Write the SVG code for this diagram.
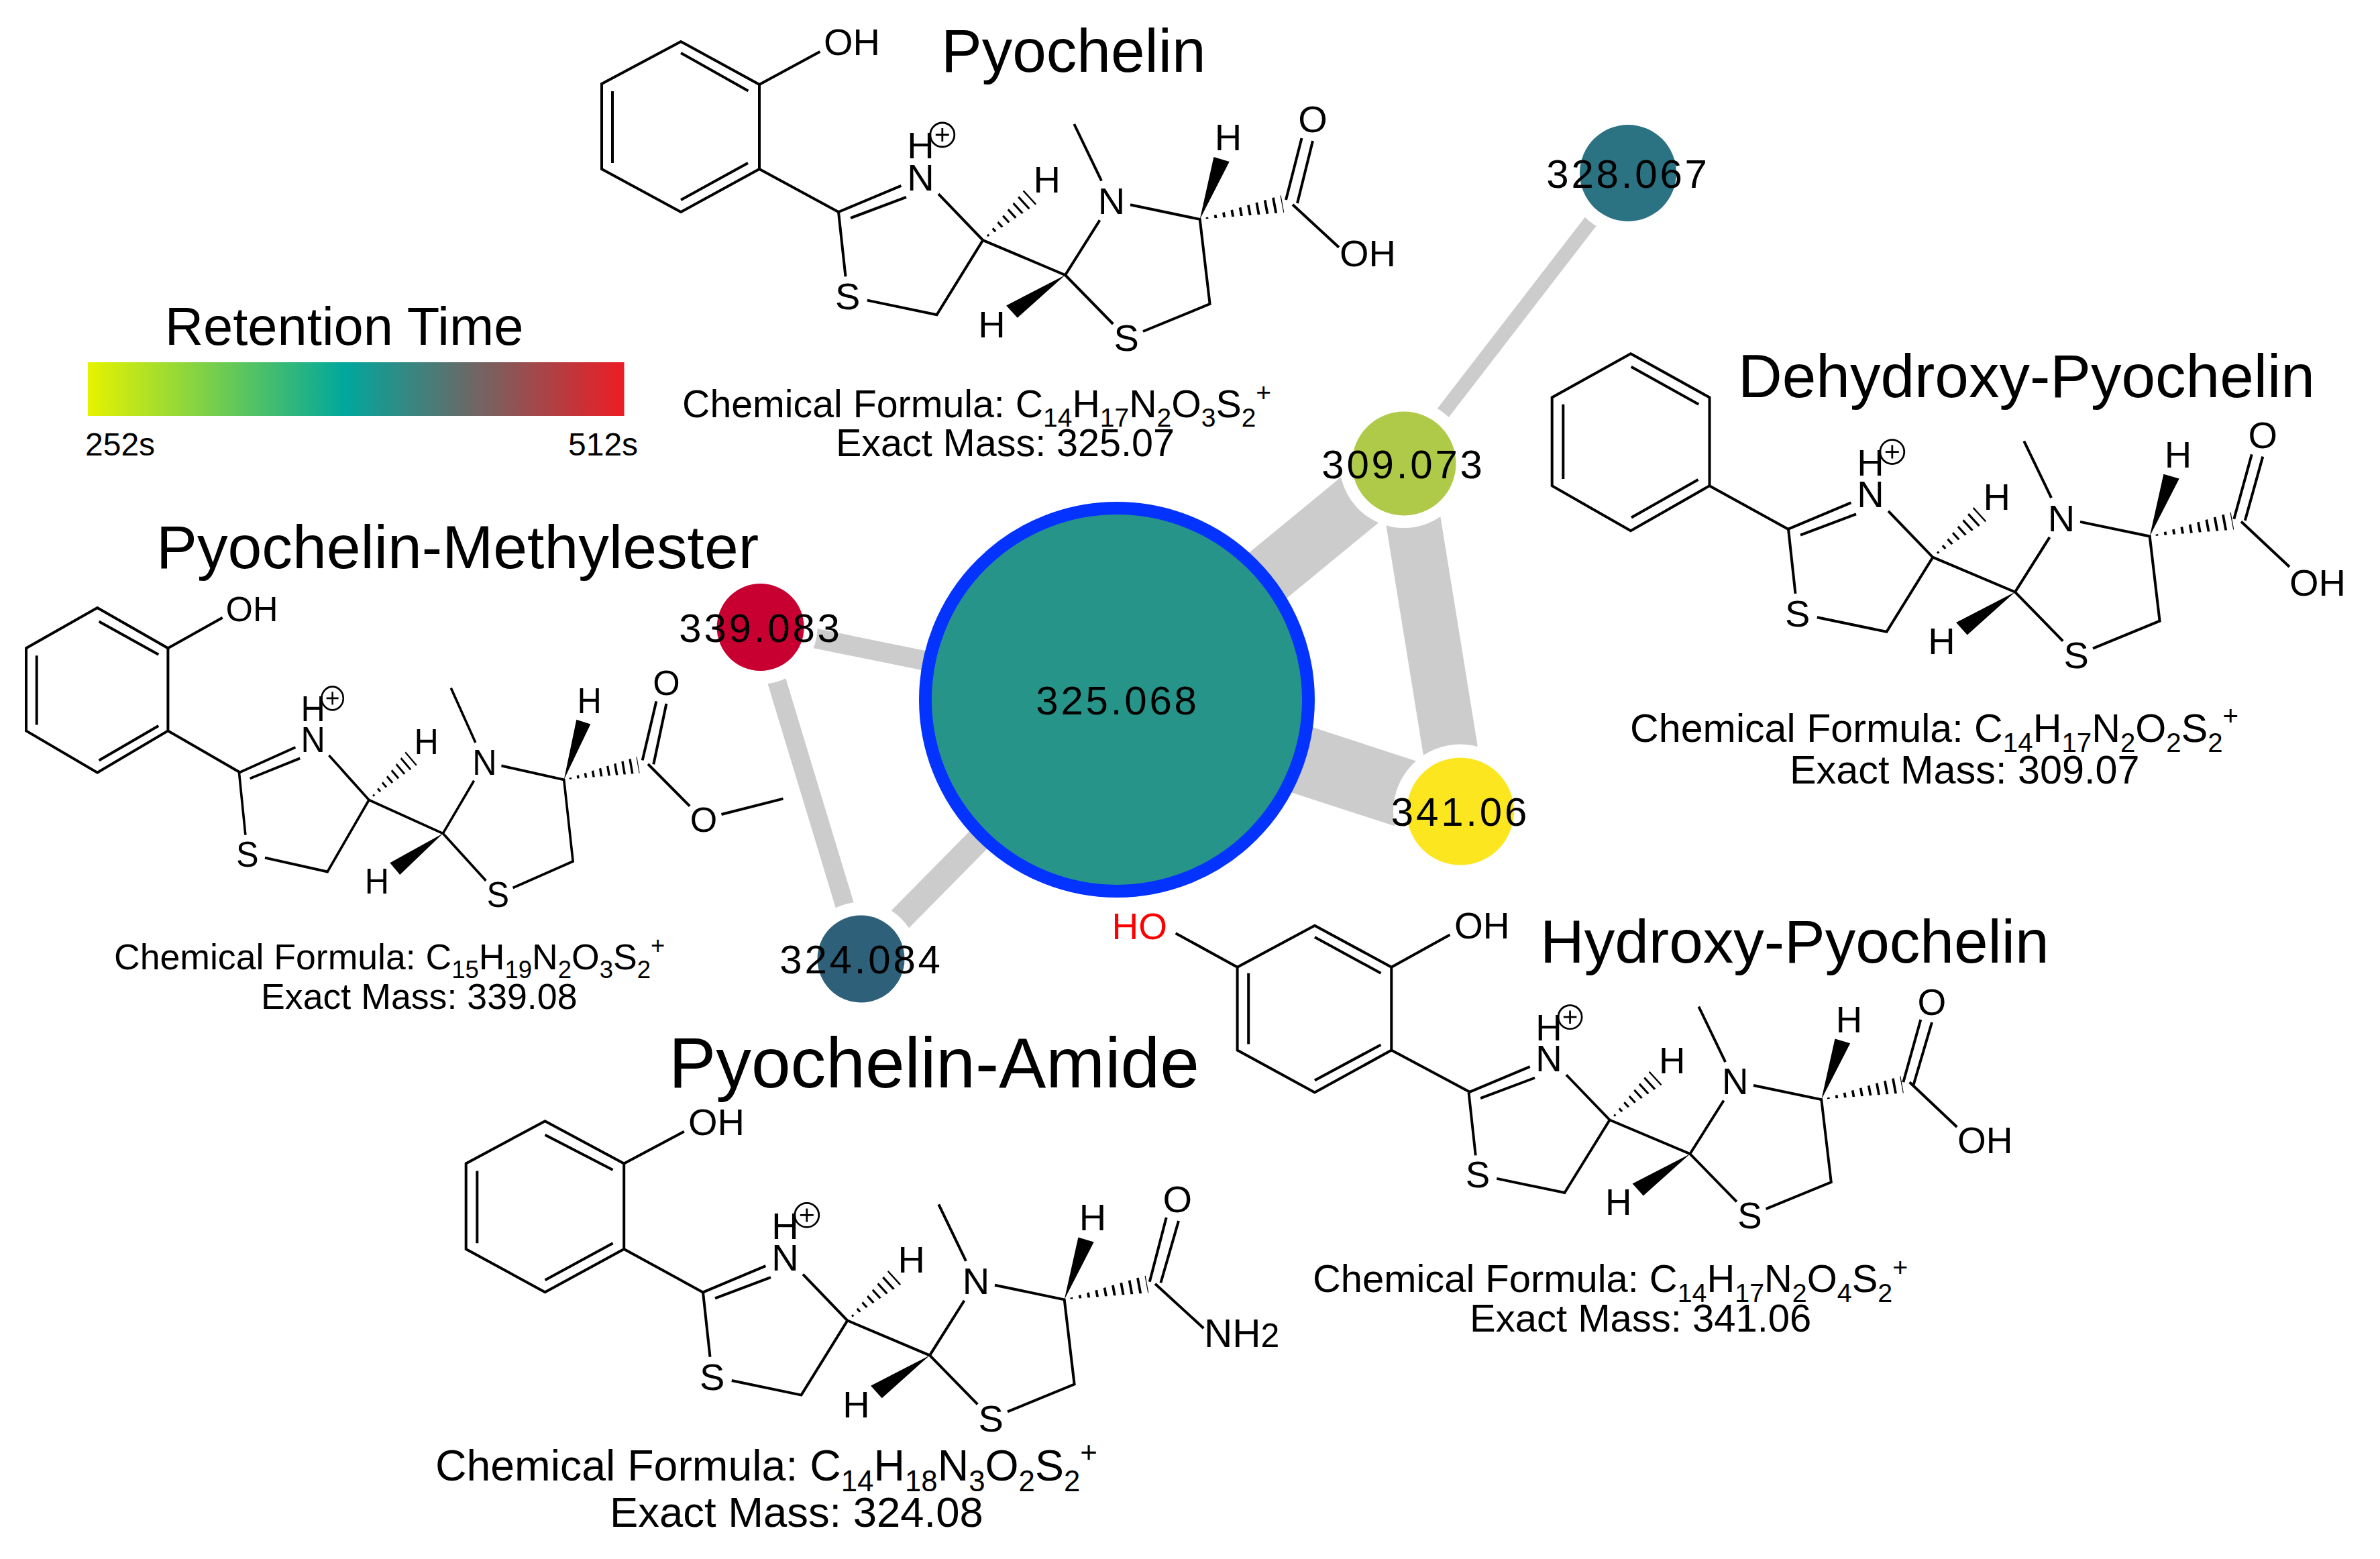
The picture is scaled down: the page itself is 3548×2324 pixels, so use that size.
<svg xmlns="http://www.w3.org/2000/svg" xmlns:xlink="http://www.w3.org/1999/xlink" width="3548" height="2324" viewBox="0 0 3548 2324">
<style>
text{font-family:"Liberation Sans",Arial,sans-serif;fill:#000}
.bond{fill:none;stroke:#000;stroke-width:4}
.edge{stroke:#ccc;fill:none}
.halo{fill:#fff}
.lab{font-size:60px;letter-spacing:3.8px;text-anchor:middle}
.at{font-size:56px;text-anchor:middle}
.st{font-size:56px}
.title{font-size:91px}
.sub{font-size:.68em;baseline-shift:-.37em}
.sup{font-size:.68em;baseline-shift:.62em}
.hash{fill:none;stroke:#000;stroke-width:40}
</style>
<defs>
<linearGradient id="rt" x1="0" x2="1" y1="0" y2="0">
<stop offset="0" stop-color="#e6f300"/><stop offset="0.48" stop-color="#00a79d"/><stop offset="1" stop-color="#ed1c24"/>
</linearGradient>
<clipPath id="h1"><polygon points="1465.3,358.1 1526.4,283.5 1545.2,304.1"/></clipPath>
<clipPath id="h2"><polygon points="1788.7,326.9 1909.7,291.2 1914.3,316.8"/></clipPath>
<g id="core">
<path class="bond" d="M1250 316L1343.4 276.8M1268 325L1351 293.8M1250 316L1260.5 412.3M1292.8 447.6L1396.5 469.2L1465.3 358.1L1399 289.2M1465.3 358.1L1588 410L1639.5 328.3M1642 269.5L1601.3 185M1588 410L1659.3 483M1704 494L1803.6 453.1L1788.7 326.9L1685 305.3"/>
<polygon points="1588,410 1500.1,455.4 1516.7,473.8"/>
<polygon points="1788.7,326.9 1809.4,234.1 1832.7,241"/>
<g clip-path="url(#h1)"><line class="hash" stroke-dasharray="3.2 8.8" x1="1465.3" y1="358.1" x2="1540" y2="290" stroke-dashoffset="-9"/></g>
<g clip-path="url(#h2)"><line class="hash" stroke-dasharray="3.8 9" x1="1788.7" y1="326.9" x2="1920" y2="302.5" stroke-dashoffset="-9"/></g>
<circle cx="1404.8" cy="201" r="18" fill="none" stroke="#000" stroke-width="2.8"/>
<path d="M1394.8 201H1414.8M1404.8 191V211" fill="none" stroke="#000" stroke-width="2.8"/>
</g>
</defs>
<rect width="3548" height="2324" fill="#fff"/>

<g id="connectors">
<line class="edge" stroke-width="88" x1="1665" y1="1043" x2="2093" y2="691"/>
<line class="edge" stroke-width="102" x1="1665" y1="1043" x2="2177" y2="1209.5"/>
<line class="edge" stroke-width="82" x1="2093" y1="691" x2="2177" y2="1209.5"/>
<line class="edge" stroke-width="29.5" x1="1665" y1="1043" x2="1133.6" y2="935"/>
<line class="edge" stroke-width="28" x1="1133.6" y1="935" x2="1283.5" y2="1429.5"/>
<line class="edge" stroke-width="37" x1="1665" y1="1043" x2="1283.5" y2="1429.5"/>
<line class="edge" stroke-width="21.4" x1="2093" y1="691" x2="2427" y2="258"/>
</g>

<g id="node-309"><circle class="halo" cx="2093" cy="691" r="96"/><circle cx="2093" cy="691" r="77.5" fill="#afc948"/><text class="lab" x="2092" y="713">309.073</text></g>
<g id="node-328"><circle class="halo" cx="2427" cy="258" r="92"/><circle cx="2427" cy="258" r="72" fill="#2b7283"/><text class="lab" x="2427" y="280">328.067</text></g>
<g id="node-341"><circle class="halo" cx="2177" cy="1209.5" r="100"/><circle cx="2177" cy="1209.5" r="80" fill="#fce620"/><text class="lab" x="2177" y="1231">341.06</text></g>
<g id="node-339"><circle class="halo" cx="1133.6" cy="935" r="85"/><circle cx="1133.6" cy="935" r="65" fill="#c80032"/><text class="lab" x="1134" y="957">339.083</text></g>
<g id="node-324"><circle class="halo" cx="1283.5" cy="1429.5" r="85"/><circle cx="1283.5" cy="1429.5" r="65" fill="#2e607a"/><text class="lab" x="1284" y="1451">324.084</text></g>
<g id="node-325"><circle cx="1665" cy="1043" r="285.5" fill="#27948a" stroke="#0433ff" stroke-width="19"/><text class="lab" x="1666" y="1065">325.068</text></g>

<g id="legend">
<text x="513" y="513.7" style="font-size:79.5px;text-anchor:middle">Retention Time</text>
<rect x="131" y="540" width="799.5" height="80" fill="url(#rt)"/>
<text x="127" y="678.7" style="font-size:48px">252s</text>
<text x="847" y="678.7" style="font-size:48px">512s</text>
</g>

<g id="mol-pyochelin">
<text class="title" x="1403" y="106.5">Pyochelin</text>
<path class="bond" d="M1015 62L1132 126V252L1015 316L897 252V125ZM1015 79L1115.4 135.4M913 136V243M1115 243L1015 298M1132 126L1222.4 77M1132 252L1250 316M1940.5 206L1917 298M1957 210L1934 303M1927 305L1996 368.7"/>
<use href="#core" xlink:href="#core"/>
<text class="at" x="1372.5" y="283.7">N</text><text class="at" x="1372.5" y="236.4">H</text><text class="at" x="1560.7" y="287">H</text><text class="at" x="1657" y="319">N</text><text class="at" x="1478.6" y="502.7">H</text><text class="at" x="1263.8" y="461.4">S</text><text class="at" x="1679.3" y="523.4">S</text><text class="at" x="1831" y="224">H</text>
<text class="at" x="1957" y="197">O</text><text class="st" x="1228" y="81.7">OH</text><text class="st" x="1997" y="397">OH</text>
<text x="1017" y="621.5" font-size="57.3">Chemical Formula: C<tspan class="sub">14</tspan>H<tspan class="sub">17</tspan>N<tspan class="sub">2</tspan>O<tspan class="sub">3</tspan>S<tspan class="sub">2</tspan><tspan class="sup">+</tspan></text>
<text x="1246" y="679.5" font-size="57.5">Exact Mass: 325.07</text>
</g>

<g id="mol-dehydroxy">
<text class="title" x="2591" y="591.6">Dehydroxy-Pyochelin</text>
<path class="bond" d="M2431 527.3L2548.5 592.5V724.2L2431 791.3L2313.7 724.2V592.5ZM2431.7 546.7L2532.3 602.7M2330.3 602.7V714M2531.5 715L2432 771.5M2548.5 724.2L2666 789M3356.8 677.4L3330.3 773.8M3373.3 680.6L3346.8 776M3341 777.5L3413 845"/>
<use href="#core" xlink:href="#core" transform="translate(1416 472.6)"/>
<g transform="translate(1416 472.6)"><text class="at" x="1372.5" y="283.7">N</text><text class="at" x="1372.5" y="236.4">H</text><text class="at" x="1560.7" y="287">H</text><text class="at" x="1657" y="319">N</text><text class="at" x="1478.6" y="502.7">H</text><text class="at" x="1263.8" y="461.4">S</text><text class="at" x="1679.3" y="523.4">S</text><text class="at" x="1831" y="224">H</text></g>
<text class="at" x="3373.3" y="668.2">O</text><text class="st" x="3413" y="887.7">OH</text>
<text x="2430" y="1105.5" font-size="59.2">Chemical Formula: C<tspan class="sub">14</tspan>H<tspan class="sub">17</tspan>N<tspan class="sub">2</tspan>O<tspan class="sub">2</tspan>S<tspan class="sub">2</tspan><tspan class="sup">+</tspan></text>
<text x="2668" y="1168" font-size="59.4">Exact Mass: 309.07</text>
</g>

<g id="mol-methylester">
<text class="title" x="233" y="847.4" style="font-size:91.3px">Pyochelin-Methylester</text>
<path class="bond" d="M145.1 906L250.4 966.2V1089.4L145.1 1151.7L39 1089.4V966.2ZM147.6 926.6L236.3 975.7M54.7 977.2V1080.6M236.3 1082L147.6 1133.4M250.4 966.2L331.7 920.7M250.4 1089.4L357 1151M957.7 1133.4L978.4 1045.4M974.3 1139.3L993.4 1049M966 1139L1028.2 1201.6M1075.5 1214L1167.5 1190.6"/>
<use href="#core" xlink:href="#core" transform="matrix(.899 0 0 .964 -767.3 847.2)"/>
<g transform="matrix(.899 0 0 .964 -767.3 847.2)"><text class="at" x="1372.5" y="283.7">N</text><text class="at" x="1372.5" y="236.4">H</text><text class="at" x="1560.7" y="287">H</text><text class="at" x="1657" y="319">N</text><text class="at" x="1478.6" y="502.7">H</text><text class="at" x="1263.8" y="461.4">S</text><text class="at" x="1679.3" y="523.4">S</text><text class="at" x="1831" y="224">H</text></g>
<text class="at" x="993.4" y="1035.9" style="font-size:52px">O</text><text class="at" x="1049" y="1239.8" style="font-size:52px">O</text><text x="336.5" y="925.9" style="font-size:52px">OH</text>
<text x="170" y="1444.9" font-size="53.6">Chemical Formula: C<tspan class="sub">15</tspan>H<tspan class="sub">19</tspan>N<tspan class="sub">2</tspan>O<tspan class="sub">3</tspan>S<tspan class="sub">2</tspan><tspan class="sup">+</tspan></text>
<text x="389" y="1504.3" font-size="53.7">Exact Mass: 339.08</text>
</g>

<g id="mol-amide">
<text style="font-size:105.4px" x="997" y="1621">Pyochelin-Amide</text>
<path class="bond" d="M812.5 1671.3L930.2 1734.4V1862L812.5 1926.2L694.7 1862V1734.4ZM812.5 1691.8L913.6 1744M711.3 1745.6V1853.3M913.6 1853.3L812.5 1908.2M930.2 1734.4L1019.8 1686.7M930.2 1862L1048 1926.4M1738.7 1814.9L1713.8 1910.8M1757 1820L1730.4 1912.3M1722 1913.8L1794.3 1980"/>
<use href="#core" xlink:href="#core" transform="translate(-202 1610.4)"/>
<g transform="translate(-202 1610.4)"><text class="at" x="1372.5" y="283.7">N</text><text class="at" x="1372.5" y="236.4">H</text><text class="at" x="1560.7" y="287">H</text><text class="at" x="1657" y="319">N</text><text class="at" x="1478.6" y="502.7">H</text><text class="at" x="1263.8" y="461.4">S</text><text class="at" x="1679.3" y="523.4">S</text><text class="at" x="1831" y="224">H</text></g>
<text class="at" x="1755.3" y="1807.2">O</text><text class="st" x="1026" y="1691.8">OH</text><text x="1795" y="2008.2" style="font-size:58.5px">NH<tspan font-size="50">2</tspan></text>
<text x="649" y="2206.6" font-size="64.4">Chemical Formula: C<tspan class="sub">14</tspan>H<tspan class="sub">18</tspan>N<tspan class="sub">3</tspan>O<tspan class="sub">2</tspan>S<tspan class="sub">2</tspan><tspan class="sup">+</tspan></text>
<text x="909" y="2275.8" font-size="63.4">Exact Mass: 324.08</text>
</g>

<g id="mol-hydroxy">
<text class="title" x="2296" y="1435">Hydroxy-Pyochelin</text>
<path class="bond" d="M1959.9 1379.7L2074.3 1441.7V1565.6L1959.9 1628.5L1844.6 1565.6V1441.7ZM1959.9 1397L2058.5 1450.8M1861.2 1450.8V1556.4M2058.5 1557.4L1959.9 1610.6M2074.3 1441.7L2161.4 1393.5M1844.6 1441.7L1752.6 1391.2M2074.3 1565.6L2190.4 1627.6M2863.3 1520L2837.3 1613.3M2880 1524L2852.7 1616.7M2846.7 1613.3L2917.3 1680"/>
<use href="#core" xlink:href="#core" transform="matrix(.976 0 0 .976 969.5 1320)"/>
<g transform="matrix(.976 0 0 .976 969.5 1320)"><text class="at" x="1372.5" y="283.7">N</text><text class="at" x="1372.5" y="236.4">H</text><text class="at" x="1560.7" y="287">H</text><text class="at" x="1657" y="319">N</text><text class="at" x="1478.6" y="502.7">H</text><text class="at" x="1263.8" y="461.4">S</text><text class="at" x="1679.3" y="523.4">S</text><text class="at" x="1831" y="224">H</text></g>
<text class="at" x="2880" y="1513" style="font-size:55px">O</text><text x="2918" y="1719.3" style="font-size:55px">OH</text><text x="2168" y="1399" style="font-size:55px">OH</text>
<text x="1740" y="1400.3" style="font-size:55px;text-anchor:end;fill:#f00">HO</text>
<text x="1957" y="1925.7" font-size="57.9">Chemical Formula: C<tspan class="sub">14</tspan>H<tspan class="sub">17</tspan>N<tspan class="sub">2</tspan>O<tspan class="sub">4</tspan>S<tspan class="sub">2</tspan><tspan class="sup">+</tspan></text>
<text x="2191" y="1985.4" font-size="58">Exact Mass: 341.06</text>
</g>
</svg>
